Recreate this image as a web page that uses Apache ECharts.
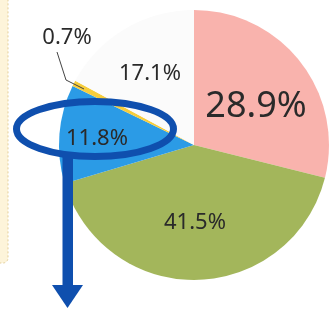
<!DOCTYPE html>
<html>
<head>
<meta charset="utf-8">
<script src="https://cdn.jsdelivr.net/npm/echarts@6/dist/echarts.min.js"></script>
<style>
html,body{margin:0;padding:0;background:#fff;}
#c{width:334px;height:309px;}
</style>
</head>
<body>
<div id="c"></div>
<script>
var categories = ['A', 'B', 'C', 'D', 'E'];
var values = [28.9, 41.5, 11.8, 0.7, 17.1];
var sliceColors = ['#f9b3ad', '#a3b65b', '#2b9be6', '#f6cd3c', '#fbfbfb'];

var labelLayoutCfg = [
  {x: 256, y: 107, size: 36},
  {x: 195, y: 223, size: 22},
  {x: 97, y: 139, size: 22},
  {x: 67, y: 38, size: 22},
  {x: 150, y: 74, size: 22}
];

var chart = echarts.init(document.getElementById('c'), null, {renderer: 'canvas'});
chart.setOption({
  backgroundColor: '#ffffff',
  animation: false,
  series: [{
    type: 'pie',
    center: [194, 145],
    radius: 135,
    startAngle: 90,
    clockwise: true,
    silent: true,
    data: categories.map(function (c, i) {
      return {
        name: c,
        value: values[i],
        itemStyle: {color: sliceColors[i]},
        label: {fontSize: labelLayoutCfg[i].size}
      };
    }),
    label: {
      show: true,
      position: 'inside',
      formatter: function (p) { return p.value.toFixed(1) + '%'; },
      color: '#2a2a2a',
      fontFamily: 'Noto Sans',
      fontWeight: 'normal'
    },
    labelLine: {show: false},
    labelLayout: function (p) {
      var l = labelLayoutCfg[p.dataIndex];
      return {x: l.x, y: l.y, align: 'center', verticalAlign: 'middle'};
    }
  }],
  graphic: [
    {
      type: 'rect', z: 0,
      shape: {x: -10, y: -10, width: 18, height: 273, r: 5},
      style: {fill: '#fdf4da', stroke: '#e3cf9a', lineWidth: 1, lineDash: [2, 2]}
    },
    {
      type: 'polyline', z: 100,
      shape: {points: [[57, 52], [66, 80], [84, 89]]},
      style: {stroke: '#444', lineWidth: 1, fill: null}
    },
    {
      type: 'ellipse', z: 100,
      shape: {cx: 95, cy: 129, rx: 78.5, ry: 27.5},
      style: {fill: null, stroke: '#0f4fae', lineWidth: 7}
    },
    {
      type: 'rect', z: 100,
      shape: {x: 62.5, y: 155, width: 10.5, height: 134},
      style: {fill: '#0f4fae'}
    },
    {
      type: 'polygon', z: 100,
      shape: {points: [[52, 285], [83, 285], [67.5, 308]]},
      style: {fill: '#0f4fae'}
    }
  ]
});
</script>
</body>
</html>
